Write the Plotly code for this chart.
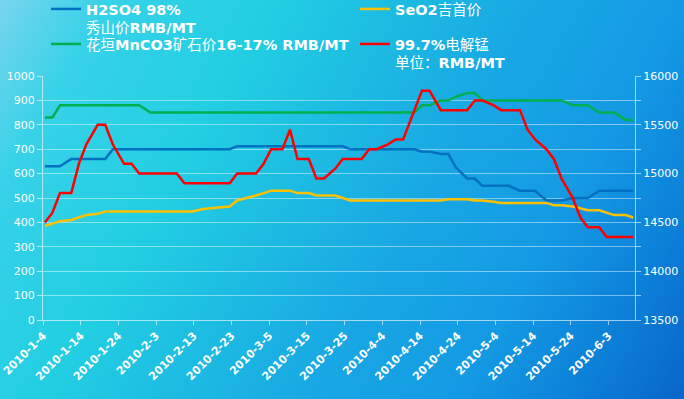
import base64
import pandas as pd
import plotly.graph_objects as go

# ---- data (Mon/Wed/Fri observations) ----
dates = [
    "2010-01-04", "2010-01-06", "2010-01-08", "2010-01-11", "2010-01-13", "2010-01-15",
    "2010-01-18", "2010-01-20", "2010-01-22", "2010-01-25", "2010-01-27", "2010-01-29",
    "2010-02-01", "2010-02-03", "2010-02-05", "2010-02-08", "2010-02-10", "2010-02-12",
    "2010-02-15", "2010-02-17", "2010-02-19", "2010-02-22", "2010-02-24", "2010-02-26",
    "2010-03-01", "2010-03-03", "2010-03-05", "2010-03-08", "2010-03-10", "2010-03-12",
    "2010-03-15", "2010-03-17", "2010-03-19", "2010-03-22", "2010-03-24", "2010-03-26",
    "2010-03-29", "2010-03-31", "2010-04-02", "2010-04-05", "2010-04-07", "2010-04-09",
    "2010-04-12", "2010-04-14", "2010-04-16", "2010-04-19", "2010-04-21", "2010-04-23",
    "2010-04-26", "2010-04-28", "2010-04-30", "2010-05-03", "2010-05-05", "2010-05-07",
    "2010-05-10", "2010-05-12", "2010-05-14", "2010-05-17", "2010-05-19", "2010-05-21",
    "2010-05-24", "2010-05-26", "2010-05-28", "2010-05-31", "2010-06-02", "2010-06-04",
    "2010-06-07", "2010-06-09",
]

h2so4 = [
    630, 630, 630, 660, 660, 660,
    660, 660, 700, 700, 700, 700,
    700, 700, 700, 700, 700, 700,
    700, 700, 700, 700, 712, 712,
    712, 712, 712, 712, 712, 712,
    712, 712, 712, 712, 712, 700,
    700, 700, 700, 700, 700, 700,
    700, 690, 690, 680, 680, 625,
    580, 580, 550, 550, 550, 550,
    530, 530, 530, 490, 490, 490,
    500, 500, 500, 530, 530, 530,
    530, 530,
]

seo2 = [
    385, 395, 405, 410, 420, 430,
    435, 445, 445, 445, 445, 445,
    445, 445, 445, 445, 445, 445,
    455, 457, 460, 465, 490, 497,
    510, 520, 530, 530, 530, 520,
    520, 510, 510, 510, 500, 490,
    490, 490, 490, 490, 490, 490,
    490, 490, 490, 490, 495, 495,
    495, 490, 490, 485, 480, 480,
    480, 480, 480, 480, 470, 470,
    465, 457, 450, 450, 440, 430,
    430, 420,
]

mnco3 = [
    830, 830, 880, 880, 880, 880,
    880, 880, 880, 880, 880, 880,
    850, 850, 850, 850, 850, 850,
    850, 850, 850, 850, 850, 850,
    850, 850, 850, 850, 850, 850,
    850, 850, 850, 850, 850, 850,
    850, 850, 850, 850, 850, 850,
    850, 880, 880, 900, 900, 915,
    930, 930, 900, 900, 900, 900,
    900, 900, 900, 900, 900, 900,
    880, 880, 880, 850, 850, 850,
    820, 820,
]

mn_metal = [
    14500, 14600, 14800, 14800, 15100, 15300,
    15500, 15500, 15300, 15100, 15100, 15000,
    15000, 15000, 15000, 15000, 14900, 14900,
    14900, 14900, 14900, 14900, 15000, 15000,
    15000, 15100, 15250, 15250, 15450, 15150,
    15150, 14950, 14950, 15050, 15150, 15150,
    15150, 15250, 15250, 15300, 15350, 15350,
    15650, 15850, 15850, 15650, 15650, 15650,
    15650, 15750, 15750, 15700, 15650, 15650,
    15650, 15450, 15350, 15250, 15150, 14950,
    14750, 14550, 14450, 14450, 14350, 14350,
    14350, 14350,
]

tick_dates = [
    "2010-01-04", "2010-01-14", "2010-01-24", "2010-02-03", "2010-02-13", "2010-02-23",
    "2010-03-05", "2010-03-15", "2010-03-25", "2010-04-04", "2010-04-14", "2010-04-24",
    "2010-05-04", "2010-05-14", "2010-05-24", "2010-06-03",
]
tick_labels = [
    "2010-1-4", "2010-1-14", "2010-1-24", "2010-2-3", "2010-2-13", "2010-2-23",
    "2010-3-5", "2010-3-15", "2010-3-25", "2010-4-4", "2010-4-14", "2010-4-24",
    "2010-5-4", "2010-5-14", "2010-5-24", "2010-6-3",
]

names = [
    "<b>H2SO4 98%</b><br>秀山价<b>RMB/MT</b>",
    "<b>SeO2</b>吉首价",
    "花垣<b>MnCO3</b>矿石价<b>16-17% RMB/MT</b>",
    "<b>99.7%</b>电解锰<br>单位：<b>RMB/MT</b>",
]
colors = ["#0070c0", "#ffc000", "#00b050", "#ff0000"]

# points sit in the middle of each day slot (date axis, between tick marks)
x = (pd.to_datetime(dates) + pd.Timedelta(hours=12)).strftime("%Y-%m-%d %H:%M").tolist()

FONT = "DejaVu Sans, Noto Sans CJK SC, sans-serif"
W, H = 684, 399
ML, MR, MT, MB = 43, 49, 76, 79
PW, PH = W - ML - MR, H - MT - MB

fig = go.Figure()
series = [h2so4, seo2, mnco3, mn_metal]
axes = ["y", "y", "y", "y2"]
legends = ["legend", "legend2", "legend3", "legend4"]
for s, nm, c, ax, lg in zip(series, names, colors, axes, legends):
    fig.add_trace(go.Scatter(
        x=x, y=s, name=nm, mode="lines", yaxis=ax, legend=lg,
        line=dict(color=c, width=2.5), hoverinfo="skip",
    ))

# background gradient
svg = f'''<svg xmlns="http://www.w3.org/2000/svg" width="{W}" height="{H}" viewBox="0 0 {W} {H}" preserveAspectRatio="none">
<defs>
<linearGradient id="g" x1="0" y1="0" x2="1.2" y2="0.4">
<stop offset="0" stop-color="#78d4ee"/>
<stop offset="0.12" stop-color="#36d2e8"/>
<stop offset="0.30" stop-color="#22cee2"/>
<stop offset="0.45" stop-color="#1cbae2"/>
<stop offset="0.60" stop-color="#18a6e4"/>
<stop offset="0.75" stop-color="#149ae4"/>
<stop offset="0.88" stop-color="#0c80d8"/>
<stop offset="1" stop-color="#0866c8"/>
</linearGradient>
</defs>
<rect x="0" y="0" width="{W}" height="{H}" fill="url(#g)"/>
</svg>'''
src = "data:image/svg+xml;base64," + base64.b64encode(svg.encode()).decode()

fig.add_layout_image(dict(
    source=src, xref="paper", yref="paper",
    x=-ML / PW, y=1 + MT / PH, sizex=W / PW, sizey=H / PH,
    xanchor="left", yanchor="top", sizing="stretch", layer="below",
))

grid = "rgba(255,255,255,0.45)"
axcol = "rgba(255,255,255,0.6)"
tickfont = dict(family=FONT, size=11, color="white")

def leg(xpx, ypx):
    return dict(
        xref="paper", yref="paper", x=(xpx - ML) / PW, y=1 + (MT - ypx) / PH,
        xanchor="left", yanchor="top", valign="top",
        bgcolor="rgba(0,0,0,0)", borderwidth=0,
        font=dict(family=FONT, size=14.5, color="white"),
    )

fig.update_layout(
    width=W, height=H, autosize=False,
    margin=dict(l=ML, r=MR, t=MT, b=MB, pad=0, autoexpand=False),
    paper_bgcolor="#1ab8e2", plot_bgcolor="rgba(0,0,0,0)",
    showlegend=True,
    legend=leg(46, -7), legend2=leg(355, -7),
    legend3=leg(46, 28), legend4=leg(355, 28),
    xaxis=dict(
        type="date", range=["2010-01-04", "2010-06-10"],
        tickmode="array", tickvals=tick_dates, ticktext=tick_labels,
        tickangle=-45, tickfont=dict(family=FONT, size=11, color="white", weight="bold"),
        ticks="outside", ticklen=4, tickcolor=axcol,
        showline=True, linecolor=axcol, linewidth=1,
        showgrid=False, zeroline=False, automargin=False,
    ),
    yaxis=dict(
        range=[0, 1000], dtick=100, tickfont=tickfont,
        ticks="outside", ticklen=5, tickcolor=axcol,
        showline=True, linecolor=axcol, linewidth=1,
        showgrid=True, gridcolor=grid, gridwidth=1, zeroline=False, automargin=False,
    ),
    yaxis2=dict(
        range=[13500, 16000], tickmode="array",
        tickvals=[13500, 14000, 14500, 15000, 15500, 16000],
        ticktext=["13500", "14000", "14500", "15000", "15500", "16000"],
        overlaying="y", side="right", tickfont=tickfont,
        ticks="outside", ticklen=5, tickcolor=axcol,
        minor=dict(tickmode="array",
                   tickvals=[13750, 14250, 14750, 15250, 15750],
                   ticks="outside", ticklen=5, tickcolor=axcol),
        showline=True, linecolor=axcol, linewidth=1,
        showgrid=False, zeroline=False, automargin=False,
    ),
)

fig.write_html(
    "out.html",
    config={"displayModeBar": False},
    post_script="document.body.style.margin='0';document.body.style.overflow='hidden';",
)
